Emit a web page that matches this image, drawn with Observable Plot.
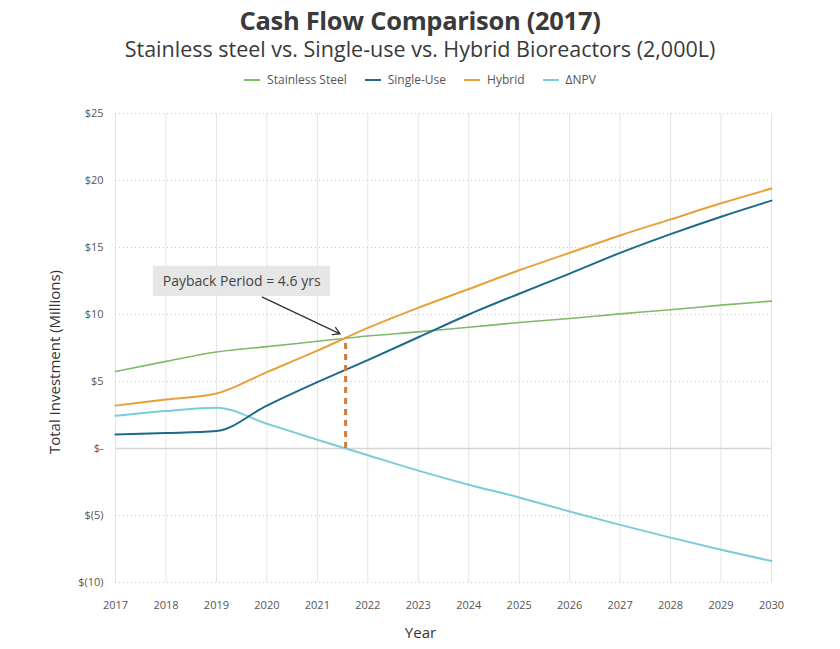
<!DOCTYPE html>
<html>
<head>
<meta charset="utf-8">
<script src="https://cdn.jsdelivr.net/npm/d3@7"></script>
<script src="https://cdn.jsdelivr.net/npm/@observablehq/plot@0.6"></script>
<style>
  body { margin: 0; background: #fff; }
  #wrap { width: 840px; font-family: "Open Sans", sans-serif; }
  #head { position: relative; height: 95px; }
  .title { position: absolute; top: 4px; width: 100%; text-align: center; font-size: 25.5px; font-weight: 700; color: #3a3a3a; line-height: 32px; letter-spacing: -0.3px; }
  .subtitle { position: absolute; top: 36px; width: 100%; text-align: center; font-size: 21.5px; color: #3a3a3a; line-height: 26px; }
  .legend { position: absolute; top: 72px; width: 100%; display: flex; justify-content: center; font-size: 12px; color: #555; line-height: 16px; }
  .legend span.item { display: flex; align-items: center; margin: 0 9px; }
  .legend span.sw { display: inline-block; width: 16px; height: 2px; margin-right: 7px; }
</style>
</head>
<body>
<div id="wrap">
  <div id="head">
    <div class="title">Cash Flow Comparison (2017)</div>
    <div class="subtitle">Stainless steel vs. Single-use vs. Hybrid Bioreactors (2,000L)</div>
    <div class="legend" id="legend"></div>
  </div>
  <div id="chart"></div>
</div>
<script>
const years = [2017, 2018, 2019, 2020, 2021, 2022, 2023, 2024, 2025, 2026, 2027, 2028, 2029, 2030];
const stainless = [5.75, 6.5, 7.2, 7.6, 8.0, 8.4, 8.7, 9.05, 9.4, 9.7, 10.05, 10.35, 10.7, 11.0];
const singleUse = [1.05, 1.15, 1.3, 3.2, 4.95, 6.6, 8.3, 10.0, 11.55, 13.05, 14.6, 16.0, 17.3, 18.5];
const hybrid = [3.2, 3.65, 4.1, 5.7, 7.3, 9.0, 10.5, 11.9, 13.3, 14.6, 15.9, 17.1, 18.3, 19.4];
const deltaNPV = [2.45, 2.8, 3.05, 1.85, 0.65, -0.5, -1.65, -2.7, -3.65, -4.7, -5.7, -6.65, -7.55, -8.4];

const seriesNames = ["Stainless Steel", "Single-Use", "Hybrid", "\u0394NPV"];
const seriesColors = ["#7dba6a", "#1c6b8a", "#e9a03b", "#7ccbd9"];
const yTicks = [-10, -5, 0, 5, 10, 15, 20, 25];

const paybackYear = [2021.56];
const paybackTop = [8.25];
const annotationText = ["Payback Period = 4.6 yrs"];
const annotationAt = [{x: 2019.5, y: 12.45}];
const annotationBox = [{x1: 2017.75, x2: 2021.26, y1: 11.35, y2: 13.6}];
const annotationArrow = [{x1: 2019.91, y1: 11.3, x2: 2021.45, y2: 8.55}];

// legend
const legend = document.getElementById("legend");
seriesNames.forEach((n, i) => {
  const it = document.createElement("span");
  it.className = "item";
  it.innerHTML = `<span class="sw" style="background:${seriesColors[i]}"></span>${n}`;
  legend.appendChild(it);
});

const allSeries = [stainless, deltaNPV, singleUse, hybrid];
const allColors = [seriesColors[0], seriesColors[3], seriesColors[1], seriesColors[2]];
const allWidths = [1.6, 2, 2, 2];
const lineMarks = allSeries.map((vals, i) =>
  Plot.line(years.map((yr, j) => ({year: yr, v: vals[j]})), {
    x: "year", y: "v", stroke: allColors[i], strokeWidth: allWidths[i], curve: "monotone-x"
  })
);

const fmt = d => d === 0 ? "$-" : d < 0 ? `$(${-d})` : `$${d}`;

const chart = Plot.plot({
  width: 840,
  height: 554,
  marginTop: 18,
  marginBottom: 67,
  marginLeft: 115,
  marginRight: 69,
  style: {fontFamily: "'Open Sans', sans-serif", fontSize: "11px", color: "#555", background: "#fff"},
  x: {domain: [2017, 2030], ticks: years, tickFormat: d => String(d), tickSize: 0, tickPadding: 19, label: null},
  y: {domain: [-10, 25], ticks: yTicks, tickFormat: fmt, tickSize: 0, tickPadding: 12, label: null},
  marks: [
    Plot.gridX(years, {stroke: "#e4e4e4", strokeOpacity: 1, strokeWidth: 1}),
    Plot.gridY(yTicks.filter(d => d !== 0), {stroke: "#c8c8c8", strokeOpacity: 1, strokeDasharray: "1,3"}),
    Plot.ruleY([0], {stroke: "#d4d4d4", strokeWidth: 1.5}),
    Plot.axisX({ticks: years, tickFormat: d => String(d), tickSize: 0, tickPadding: 19, label: null, fill: "#555"}),
    Plot.axisY({ticks: yTicks, tickFormat: fmt, tickSize: 0, tickPadding: 12, label: null, fill: "#555"}),
    ...lineMarks,
    Plot.ruleX(paybackYear, {x: d => d, y1: 0, y2: paybackTop[0], stroke: "#d27b3c", strokeWidth: 3, strokeDasharray: "6,5"}),
    Plot.rect(annotationBox, {x1: "x1", x2: "x2", y1: "y1", y2: "y2", fill: "#e6e6e6"}),
    Plot.text(annotationText, {x: () => annotationAt[0].x, y: () => annotationAt[0].y, text: d => d, fontSize: 14, fill: "#444"}),
    Plot.arrow(annotationArrow, {x1: "x1", y1: "y1", x2: "x2", y2: "y2", stroke: "#333", strokeWidth: 1.3, headLength: 9}),
    Plot.text(["Year"], {frameAnchor: "bottom", dy: 55, dx: -23, text: d => d, fontSize: 15, fill: "#333"}),
    Plot.text(["Total Investment (Millions)"], {frameAnchor: "left", dx: -60, dy: 14, rotate: -90, textAnchor: "middle", text: d => d, fontSize: 15, fill: "#333"})
  ]
});
document.getElementById("chart").appendChild(chart);
</script>
</body>
</html>
